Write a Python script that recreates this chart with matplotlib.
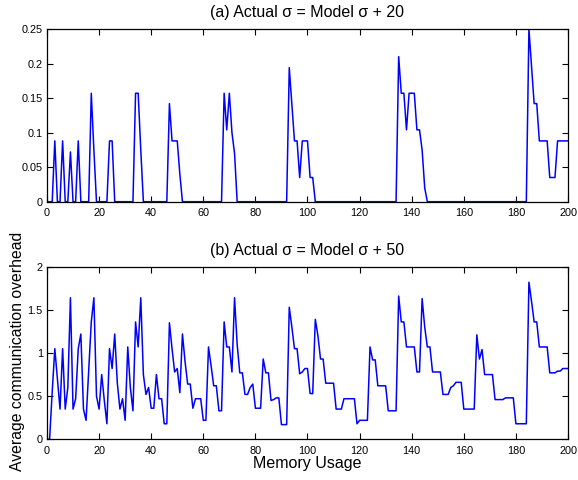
import numpy as np
import matplotlib
matplotlib.use('Agg')
import matplotlib.pyplot as plt
from matplotlib.ticker import FuncFormatter

plt.rcParams['font.family'] = ['Liberation Sans', 'DejaVu Sans']

# memory usage 0..200
mem = np.arange(0, 201)

# (a) actual sigma = model sigma + 20
over_a = [
    0, 0, 0, 0.088, 0, 0, 0.088, 0, 0, 0.072,            # 0-9
    0, 0, 0.088, 0, 0, 0, 0, 0.157, 0.075, 0,            # 10-19
    0, 0, 0, 0, 0.088, 0.088, 0, 0, 0, 0,                # 20-29
    0, 0, 0, 0, 0.157, 0.157, 0.075, 0, 0, 0,            # 30-39
    0, 0, 0, 0, 0, 0, 0, 0.142, 0.088, 0.088,            # 40-49
    0.088, 0.04, 0, 0, 0, 0, 0, 0, 0, 0,                 # 50-59
    0, 0, 0, 0, 0, 0, 0, 0, 0.157, 0.104,                # 60-69
    0.157, 0.1, 0.07, 0, 0, 0, 0, 0, 0, 0,               # 70-79
    0, 0, 0, 0, 0, 0, 0, 0, 0, 0,                        # 80-89
    0, 0, 0, 0.194, 0.14, 0.088, 0.088, 0.035, 0.088, 0.088,  # 90-99
    0.088, 0.035, 0.035, 0, 0, 0, 0, 0, 0, 0,            # 100-109
    0, 0, 0, 0, 0, 0, 0, 0, 0, 0,                        # 110-119
    0, 0, 0, 0, 0, 0, 0, 0, 0, 0,                        # 120-129
    0, 0, 0, 0, 0, 0.21, 0.157, 0.157, 0.104, 0.157,     # 130-139
    0.157, 0.157, 0.104, 0.104, 0.075, 0.02, 0, 0, 0, 0, # 140-149
    0, 0, 0, 0, 0, 0, 0, 0, 0, 0,                        # 150-159
    0, 0, 0, 0, 0, 0, 0, 0, 0, 0,                        # 160-169
    0, 0, 0, 0, 0, 0, 0, 0, 0, 0,                        # 170-179
    0, 0, 0, 0, 0, 0.25, 0.196, 0.142, 0.142, 0.088,     # 180-189
    0.088, 0.088, 0.088, 0.035, 0.035, 0.035, 0.088, 0.088, 0.088, 0.088,  # 190-199
    0.088,                                               # 200
]

# (b) actual sigma = model sigma + 50
over_b = [
    0, 0, 0.55, 1.05, 0.7, 0.35, 1.05, 0.35, 0.6, 1.64,  # 0-9
    0.35, 0.47, 1.05, 1.22, 0.35, 0.22, 0.8, 1.36, 1.64, 0.5,  # 10-19
    0.35, 0.75, 0.45, 0.18, 1.05, 0.82, 1.22, 0.65, 0.35, 0.47,  # 20-29
    0.22, 1.07, 0.6, 0.33, 1.36, 1.07, 1.64, 0.75, 0.52, 0.6,  # 30-39
    0.36, 0.36, 0.75, 0.47, 0.47, 0.18, 0.18, 1.35, 1.05, 0.78,  # 40-49
    0.82, 0.54, 1.22, 0.9, 0.64, 0.64, 0.36, 0.47, 0.47, 0.47,  # 50-59
    0.22, 0.22, 1.07, 0.85, 0.62, 0.62, 0.33, 0.33, 1.36, 1.07,  # 60-69
    1.07, 0.78, 1.64, 1.1, 0.77, 0.77, 0.52, 0.52, 0.6, 0.64,  # 70-79
    0.36, 0.36, 0.36, 0.93, 0.77, 0.77, 0.45, 0.46, 0.48, 0.48,  # 80-89
    0.17, 0.17, 0.17, 1.53, 1.3, 1.05, 1.05, 0.76, 0.78, 0.82,  # 90-99
    0.82, 0.53, 0.53, 1.39, 1.2, 0.93, 0.93, 0.65, 0.65, 0.65,  # 100-109
    0.65, 0.35, 0.35, 0.35, 0.47, 0.47, 0.47, 0.47, 0.47, 0.18,  # 110-119
    0.22, 0.22, 0.22, 0.22, 1.07, 0.92, 0.92, 0.62, 0.62, 0.62,  # 120-129
    0.62, 0.33, 0.33, 0.33, 0.33, 1.66, 1.36, 1.36, 1.07, 1.07,  # 130-139
    1.07, 1.07, 0.78, 0.78, 1.63, 1.3, 1.07, 1.07, 0.78, 0.78,  # 140-149
    0.78, 0.78, 0.52, 0.52, 0.52, 0.6, 0.62, 0.66, 0.66, 0.66,  # 150-159
    0.35, 0.35, 0.35, 0.35, 0.35, 1.21, 0.93, 1.04, 0.75, 0.75,  # 160-169
    0.75, 0.75, 0.46, 0.46, 0.46, 0.46, 0.48, 0.48, 0.48, 0.48,  # 170-179
    0.18, 0.18, 0.18, 0.18, 0.18, 1.82, 1.6, 1.36, 1.36, 1.07,  # 180-189
    1.07, 1.07, 1.07, 0.77, 0.77, 0.77, 0.79, 0.79, 0.82, 0.82,  # 190-199
    0.82,                                                # 200
]

fig = plt.figure(figsize=(5.78, 4.8), dpi=100)
ax1 = fig.add_axes([0.0813, 0.5798, 0.9014, 0.3598])
ax2 = fig.add_axes([0.0813, 0.0848, 0.9014, 0.3596])

def g_fmt(v, pos):
    return '%g' % round(v, 4)

for ax, y, ttl, yt in [(ax1, over_a, '(a) Actual \u03c3 = Model \u03c3 + 20', np.arange(0, 0.26, 0.05)),
                       (ax2, over_b, '(b) Actual \u03c3 = Model \u03c3 + 50', np.arange(0, 2.01, 0.5))]:
    ax.plot(mem, y, color='#0000ff', lw=1.1)
    ax.set_xlim(0, 200)
    ax.set_ylim(yt[0], yt[-1])
    ax.set_xticks(np.arange(0, 201, 20))
    ax.set_yticks(yt)
    ax.yaxis.set_major_formatter(FuncFormatter(g_fmt))
    ax.tick_params(direction='in', top=True, right=True, length=4, width=0.8,
                   labelsize=7.8)
    ax.tick_params(axis='x', pad=4.5)
    ax.tick_params(axis='y', pad=3)
    for s in ax.spines.values():
        s.set_linewidth(0.9)
    ax.set_title(ttl, fontsize=11.5, pad=8.5)

ax2.set_xlabel('Memory Usage', fontsize=11.5, labelpad=0)
ax2.set_ylabel('Average communication overhead', fontsize=11.3)
ax2.yaxis.set_label_coords(-0.042, 0.51)

fig.savefig('out.png', dpi=100)
